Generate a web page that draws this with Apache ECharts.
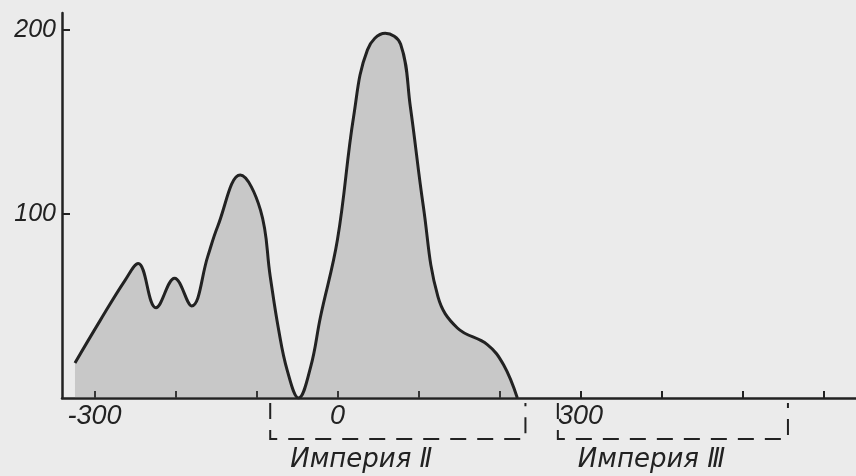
<!DOCTYPE html>
<html>
<head>
<meta charset="utf-8">
<script src="https://cdn.jsdelivr.net/npm/echarts@6/dist/echarts.min.js"></script>
<style>
html,body{margin:0;padding:0;background:#ebebeb;}
#chart{width:856px;height:476px;}
</style>
</head>
<body>
<div id="chart"></div>
<script>
// Curve: year (x) vs. value (y)
var years  = [-324, -293, -262, -246, -224, -201, -180, -160, -148, -120, -95, -83, -73, -62, -48, -33, -21, 0, 20, 37, 59, 78, 90, 106, 124, 148, 185, 205, 222];
var values = [19, 42, 64, 73, 49, 65, 50, 77, 93, 121, 102, 66, 38, 15, 0, 17, 44, 86, 153, 189, 198, 192, 158, 104, 55, 38, 29, 18, 0];
var xTicks = [-300, -200, -100, 0, 100, 200, 300, 400, 500, 600];
var xLabels = [-300, 0, 300];
var yTicks = [100, 200];
var empireNames = ['Империя Ⅱ', 'Империя Ⅲ'];
var empireStart = [-83, 272];
var empireEnd   = [232, 556];

var curve = years.map(function (x, i) { return [x, values[i]]; });
var empires = empireStart.map(function (s, i) { return [s, empireEnd[i]]; });

var ink = '#222';
var numFont = 'Liberation Sans';
var textFont = 'DejaVu Sans';
var chart = echarts.init(document.getElementById('chart'));
chart.setOption({
  backgroundColor: '#ebebeb',
  animation: false,
  grid: { left: 62, right: 0, top: 13, bottom: 78 },
  xAxis: {
    type: 'value', min: -340, max: 640,
    splitLine: { show: false },
    axisLine: { show: true, onZero: false, lineStyle: { color: ink, width: 2.5 } },
    axisTick: { show: true, inside: true, length: 7, customValues: xTicks, lineStyle: { color: ink, width: 2 } },
    axisLabel: { customValues: xLabels, color: ink, fontSize: 27, fontStyle: 'italic', fontFamily: numFont, margin: 5 }
  },
  yAxis: {
    type: 'value', min: 0, max: 209,
    splitLine: { show: false },
    axisLine: { show: true, onZero: false, lineStyle: { color: ink, width: 2.5 } },
    axisTick: { show: true, inside: true, length: 8, customValues: yTicks, lineStyle: { color: ink, width: 2 } },
    axisLabel: { customValues: yTicks, color: ink, fontSize: 25, fontStyle: 'italic', fontFamily: numFont, margin: 6 }
  },
  series: [
    {
      type: 'line', data: curve, smooth: 0.4, symbol: 'none',
      lineStyle: { color: ink, width: 3 },
      areaStyle: { color: 'rgba(110,110,110,0.40)' }
    },
    {
      type: 'custom', data: empires, clip: false,
      encode: { x: [0, 1] },
      renderItem: function (params, api) {
        var a = api.coord([api.value(0), 0]);
        var b = api.coord([api.value(1), 0]);
        var y0 = a[1];
        return {
          type: 'group',
          children: [
            {
              type: 'polyline',
              shape: { points: [[a[0], y0 + 5], [a[0], y0 + 41], [b[0], y0 + 41], [b[0], y0 + 5]] },
              style: { stroke: ink, lineWidth: 2, lineDash: [16, 11], fill: null }
            },
            {
              type: 'text',
              style: {
                text: empireNames[params.dataIndex], x: a[0] + 20, y: y0 + 62,
                font: 'italic 26px "' + textFont + '"', fill: ink, verticalAlign: 'middle', align: 'left'
              }
            }
          ]
        };
      }
    }
  ]
});
</script>
</body>
</html>
